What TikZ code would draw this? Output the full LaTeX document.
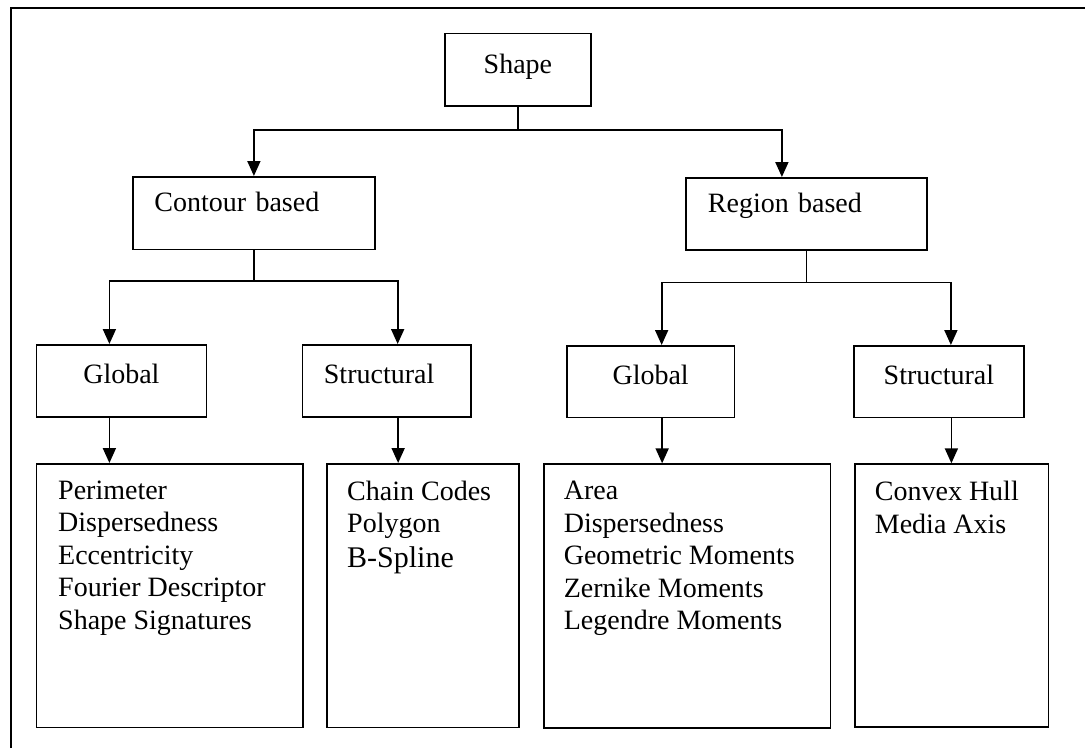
\documentclass[tikz,border=0pt]{standalone}
\usepackage{fontspec}
\setmainfont{Liberation Serif}
\usetikzlibrary{arrows.meta, positioning, calc}
\tikzset{
  block/.style={draw, line width=1.8pt, anchor=north west, inner sep=0pt, font=\fontsize{28}{32.5}\selectfont},
  listbox/.style={draw, line width=1.8pt, anchor=north west, inner sep=0pt},
  items/.style={inner sep=0pt, align=left, font=\fontsize{28}{32.5}\selectfont},
  link/.style={line width=1.8pt},
  arrow/.style={link, -{Triangle[length=15pt, width=13pt]}},
}

\begin{document}
\begin{tikzpicture}[x=1pt, y=-1pt]
    \useasboundingbox (0,0) rectangle (1085,748);
    \draw[line width=1.8pt] (11,748) -- (11,8) -- (1085,8);

    % top levels
    \node[block, text width=146pt, align=center, text height=40pt, text depth=32.5pt] (shape) at (444,32.5) {Shape};
    \node[block, text width=199pt, inner xsep=21.5pt, align=left, text height=35pt, text depth=37.5pt] (contour) at (132,176) {Contour based};
    \node[block, text width=197pt, inner xsep=22pt, align=left, text height=35pt, text depth=37pt] (region) at (685,177) {Region based};

    \node[block, text width=170pt, align=center, text height=39pt, text depth=33pt] (cglobal) at (35.5,344) {Global};
    \node[block, text width=125.5pt, inner xsep=21.5pt, align=left, text height=39pt, text depth=33pt] (cstruct) at (301.5,344) {Structural};
    \node[block, text width=167.5pt, align=center, text height=38.5pt, text depth=33pt] (rglobal) at (566,345) {Global};
    \node[block, text width=170pt, align=center, text height=38.5pt, text depth=33pt] (rstruct) at (853,345) {Structural};

    % feature lists
    \node[listbox, minimum width=266.5pt, minimum height=263.5pt] (cglist) at (35.5,463) {};
    \node[listbox, minimum width=192pt, minimum height=263.5pt] (cslist) at (326,463) {};
    \node[listbox, minimum width=286.5pt, minimum height=264pt] (rglist) at (543,463.3) {};
    \node[listbox, minimum width=193.5pt, minimum height=262.5pt] (rslist) at (854,463.3) {};

    \node[items, below right=17.5pt and 22.5pt of cglist.north west] (cgitems) {Perimeter\\Dispersedness\\Eccentricity\\Fourier Descriptor\\Shape Signatures};
    \node[items, below right=17.5pt and 21pt of cslist.north west] (csitems) {Chain Codes\\Polygon\\[2.5pt]{\fontsize{30}{32.5}\selectfont B-Spline}};
    \node[items, below right=17.7pt and 20.6pt of rglist.north west] (rgitems) {Area\\Dispersedness\\Geometric Moments\\Zernike Moments\\Legendre Moments};
    \node[items, below right=17.7pt and 20.7pt of rslist.north west] (rsitems) {Convex Hull\\Media Axis};

    % connectors
    \coordinate (sj) at ($(shape.south)+(0,23.3)$);
    \coordinate (cj) at ($(contour.south)+(0,30.5)$);
    \coordinate (rj) at ($(region.south)+(0,31.7)$);
    \draw[link] (shape.south) -- (sj);
    \draw[arrow] (sj) -| (contour.north);
    \draw[arrow] (sj) -| ([xshift=-24.5pt]region.north);
    \draw[link] (contour.south) -- (cj);
    \draw[arrow] (cj) -| ([xshift=-12pt]cglobal.north);
    \draw[arrow] (cj) -| ([xshift=11pt]cstruct.north);
    \draw[link] (region.south) -- (rj);
    \draw[arrow] (rj) -| ([xshift=11pt]rglobal.north);
    \draw[arrow] (rj) -| ([xshift=12pt]rstruct.north);
    \foreach \a/\b/\s in {cglobal/cglist/-12, cstruct/cslist/11.5, rglobal/rglist/11.5, rstruct/rslist/12.5}
        \draw[arrow] ([xshift=\s pt]\a.south) -- ($(\a.south |- \b.north)+(\s,0)$);
\end{tikzpicture}
\end{document}
